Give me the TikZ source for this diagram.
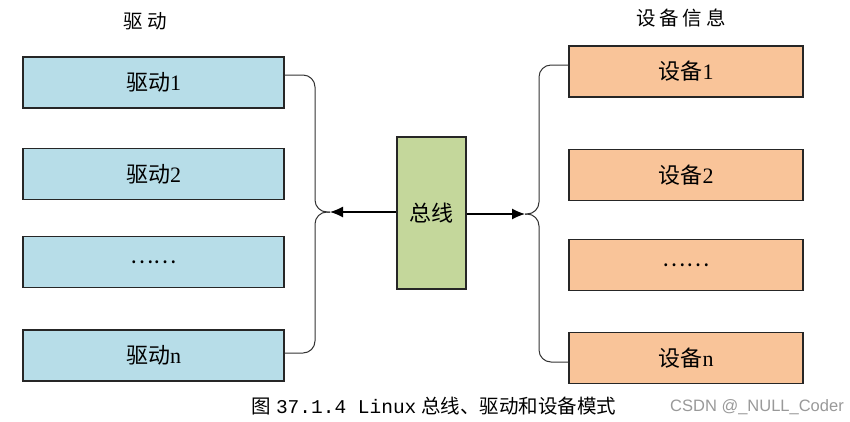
\documentclass[tikz,border=0pt]{standalone}
\usepackage{fontspec}
\setmainfont{Liberation Serif}
\newfontfamily\cjk{Noto Sans CJK SC}
\newfontfamily\wmfont{Liberation Sans}
\newfontfamily\capmono{Liberation Mono}
\usetikzlibrary{arrows.meta}
\definecolor{driverBlue}{HTML}{B7DDE8}
\definecolor{deviceOrange}{HTML}{F9C499}
\definecolor{busGreen}{HTML}{C4D79B}

\begin{document}
\begin{tikzpicture}[x = 1pt, y = -1pt]
	\tikzstyle{boxStyle} = [draw = black!85, line width = 1.3pt, inner sep = 0pt, font = \fontsize{22}{22}\selectfont]
	\tikzstyle{driverStyle} = [boxStyle, fill = driverBlue, minimum width = 261pt, minimum height = 51pt]
	\tikzstyle{deviceStyle} = [boxStyle, fill = deviceOrange, minimum width = 234pt, minimum height = 51pt]
	\tikzstyle{busStyle} = [boxStyle, fill = busGreen, minimum width = 69pt, minimum height = 152pt]
	\tikzstyle{titleStyle} = [font = \fontsize{19.5}{19.5}\selectfont]
	\tikzstyle{linkStyle} = [draw = black!80, line width = 1pt, rounded corners = 12pt]
	\tikzstyle{arrowStyle} = [draw = black, line width = 1.2pt, -{Latex[length = 13pt, width = 11pt]}]
	\useasboundingbox (0,0) rectangle (850,421);
	\node[titleStyle] (tdr) at (145,21) {\cjk 驱\hspace{0.25em}动};
	\node[titleStyle] (tdv) at (681,18) {\cjk 设\hspace{0.2em}备\hspace{0.2em}信\hspace{0.2em}息};
	\node[driverStyle] (dr1) at (153.5,82.5) {{\cjk 驱动}1};
	\node[driverStyle] (dr2) at (153.5,174) {{\cjk 驱动}2};
	\node[driverStyle] (dr3) at (153.5,262) {\cjk ……};
	\node[driverStyle] (dr4) at (153.5,355.5) {{\cjk 驱动}n};
	\node[deviceStyle] (dv1) at (686,71.5) {{\cjk 设备}1};
	\node[deviceStyle] (dv2) at (686,175) {{\cjk 设备}2};
	\node[deviceStyle] (dv3) at (686,265) {\cjk ……};
	\node[deviceStyle] (dv4) at (686,358) {{\cjk 设备}n};
	\node[busStyle] (bus) at (431.5,213) {\cjk 总线};
	\coordinate (jl) at (330,212);
	\coordinate (bl) at (315,212);
	\coordinate (jr) at (525,214);
	\coordinate (br) at (539,214);
	\draw[linkStyle] ([yshift = 7.5pt]dr1.east) -| (bl) -- (jl);
	\draw[linkStyle] (jl) -- (bl) |- ([yshift = 2.5pt]dr4.east);
	\draw[linkStyle] (jr) -- (br) |- ([yshift = 6.5pt]dv1.west);
	\draw[linkStyle] (jr) -- (br) |- ([yshift = -4pt]dv4.west);
	\draw[arrowStyle] ([yshift = 1pt]bus.west) -- (jl);
	\draw[arrowStyle] ([yshift = -1pt]bus.east) -- (jr);
	\node[font = \fontsize{19.5}{19.5}\selectfont] (cap) at (434,406) {{\cjk 图} {\capmono 37.1.4 Linux} {\cjk 总线、驱动和设备模式}};
	\node[font = \fontsize{16.5}{16.5}\selectfont\wmfont, text = black!40] (wm) at (757,407) {CSDN @\_NULL\_Coder};
\end{tikzpicture}
\end{document}
